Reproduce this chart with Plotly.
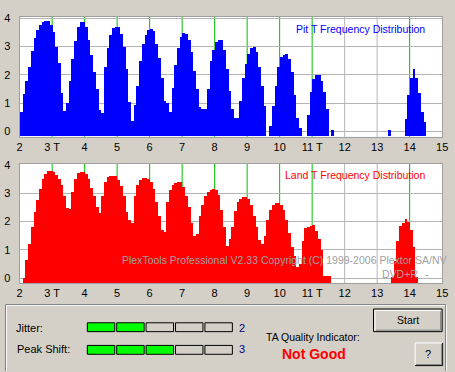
import plotly.graph_objects as go

W, H = 455, 372
BG = "#D4D0C8"
FONT = "Liberation Sans, Arial, sans-serif"

# ---------------- data ----------------
bin_start = 2.0
bin_width = 1 / 12
bar_floor = -0.15

pit_values = [
    0.70, 1.32, 1.80, 2.30, 2.85, 3.30, 3.58, 3.75, 3.86, 3.89, 3.89, 3.75,   # 2T
    3.52, 3.00, 2.43, 1.37, 0.72, 1.00, 1.80, 2.55, 3.20, 3.70, 3.87, 3.87,   # 3T
    3.70, 3.25, 2.70, 2.10, 1.50, 0.76, 0.68, 2.30, 2.95, 3.40, 3.66, 3.70,   # 4T
    3.68, 3.45, 3.00, 2.20, 1.05, 0.38, 0.94, 1.60, 2.50, 3.10, 3.42, 3.58,   # 5T
    3.62, 3.55, 3.10, 2.60, 1.90, 1.10, 1.00, 0.70, 1.55, 2.35, 2.96, 3.35,   # 6T
    3.49, 3.45, 3.22, 2.80, 2.15, 1.50, 0.88, 0.82, 0.80, 1.50, 2.50, 2.90,   # 7T
    3.15, 3.25, 3.25, 2.90, 2.20, 1.45, 0.80, 0.47, 0.47, 1.10, 1.90, 2.40,   # 8T
    2.75, 2.95, 2.99, 2.80, 2.30, 1.60, 0.90, None, 0.20, 0.90, 1.60, 2.30,   # 9T
    2.62, 2.72, 2.75, 2.58, 2.10, 1.30, 0.50, 0.15, None, None, 0.60, 1.40,   # 10T
    1.85, 2.00, 2.00, 1.80, 1.40, 0.80, None, 0.05, None, None, None, None,   # 11T
    None, None, None, None, None, None, None, None, None, None, None, None,   # 12T
    None, None, None, None, 0.05, None, None, None, None, None, 0.45, 1.30,   # 13T
    1.90, 2.20, 1.90, 1.35, 0.70, 0.35, None, None, None, None, None, None,   # 14T
]

land_values = [
    None, 0.02, 0.64, 1.20, 1.80, 2.32, 2.75, 3.15, 3.50, 3.67, 3.78, 3.79,   # 2T
    3.75, 3.65, 3.50, 3.30, 2.90, 2.47, 2.45, 3.05, 3.50, 3.70, 3.76, 3.76,   # 3T
    3.68, 3.50, 3.20, 2.90, 2.50, 2.30, 2.90, 3.39, 3.56, 3.62, 3.62, 3.60,   # 4T
    3.45, 3.25, 2.90, 2.35, 2.05, 1.95, 2.90, 3.30, 3.48, 3.52, 3.52, 3.50,   # 5T
    3.38, 3.15, 2.70, 2.20, 1.70, 1.65, 2.70, 3.10, 3.30, 3.37, 3.39, 3.38,   # 6T
    3.22, 2.90, 2.50, 1.95, 1.50, 1.55, 2.20, 2.60, 2.90, 3.05, 3.12, 3.13,   # 7T
    3.12, 2.94, 2.40, 1.80, 1.15, 1.40, 1.80, 2.36, 2.68, 2.80, 2.86, 2.86,   # 8T
    2.80, 2.60, 2.20, 1.80, 1.35, 1.20, 1.50, 2.05, 2.40, 2.60, 2.65, 2.66,   # 9T
    2.58, 2.40, 2.05, 1.60, 1.10, 0.80, 0.40, 0.50, 1.30, 1.77, 1.80, 1.85,   # 10T
    1.89, 1.68, 1.40, 1.00, 0.08, 0.08, 0.08, None, None, None, None, None,   # 11T
    None, None, None, None, None, None, None, None, None, None, None, None,   # 12T
    None, None, None, None, None, 0.05, 0.60, 1.30, 1.85, 1.95, 2.09, 1.97,   # 13T
    1.70, 1.10, 0.05, None, None, None, None, None, None, None, None, None,   # 14T
]

x_tick_vals = list(range(2, 16))
x_tick_text = ["2", "3 T", "4", "5", "6", "7", "8", "9", "10", "11 T", "12", "13", "14", "15"]
y_tick_vals = [0, 1, 2, 3, 4]
green_marks = [3, 4, 5, 6, 7, 8, 9, 10, 11, 14]
gray_marks = [12, 13]

jitter_level = 2
peak_shift_level = 3
indicator_segments = 5
quality_text = "Not Good"


# ---------------- helpers ----------------
def fx(p):
    return p / W


def fy(p):
    return 1 - p / H


def lengths(vals):
    return [None if v is None else v - bar_floor for v in vals]


bin_centers = [bin_start + (i + 0.5) * bin_width for i in range(len(pit_values))]

fig = go.Figure()
fig.add_trace(go.Bar(
    x=bin_centers, y=lengths(pit_values), base=bar_floor, width=bin_width,
    marker=dict(color="#0000FF", line=dict(width=0)), xaxis="x", yaxis="y",
    showlegend=False, hoverinfo="skip"))
fig.add_trace(go.Bar(
    x=bin_centers, y=lengths(land_values), base=bar_floor, width=bin_width,
    marker=dict(color="#FF0000", line=dict(width=0)), xaxis="x2", yaxis="y2",
    showlegend=False, hoverinfo="skip"))

tickfont = dict(family=FONT, size=11, color="black")
common_x = dict(range=[2, 15], tickmode="array", tickvals=x_tick_vals, ticktext=x_tick_text,
                showgrid=False, zeroline=False, showline=True, mirror=True,
                linecolor="#A0A0A0", linewidth=1, ticks="", tickfont=tickfont,
                ticklabelstandoff=0, fixedrange=True, domain=[fx(17), fx(448)])
common_y = dict(tickmode="array", tickvals=y_tick_vals, showgrid=True, gridcolor="#B4B4B4",
                gridwidth=1, zeroline=False, showline=True, mirror=True,
                linecolor="#A0A0A0", linewidth=1, ticks="", tickfont=tickfont,
                ticklabelstandoff=6, fixedrange=True)

fig.update_layout(
    width=W, height=H,
    margin=dict(l=0, r=0, t=0, b=0),
    paper_bgcolor=BG, plot_bgcolor="white",
    barmode="overlay", bargap=0,
    font=dict(family=FONT, size=11, color="black"),
    xaxis=dict(common_x, anchor="y"),
    yaxis=dict(common_y, anchor="x", domain=[fy(134), fy(12)], range=[-0.184, 4.045]),
    xaxis2=dict(common_x, anchor="y2"),
    yaxis2=dict(common_y, anchor="x2", domain=[fy(282.5), fy(161.5)], range=[-0.166, 4.028]),
)

shapes = []
for xa, ya in (("x", "y domain"), ("x2", "y2 domain")):
    for v in green_marks:
        shapes.append(dict(type="line", xref=xa, yref=ya, x0=v, x1=v, y0=0, y1=1,
                           line=dict(color="#00C000", width=1), layer="below"))
    for v in gray_marks:
        shapes.append(dict(type="line", xref=xa, yref=ya, x0=v, x1=v, y0=0, y1=1,
                           line=dict(color="#B4B4B4", width=1), layer="below"))


def path(points):
    return "M " + " L ".join(f"{fx(a)},{fy(b)}" for a, b in points)


def pline(points, color):
    shapes.append(dict(type="path", xref="paper", yref="paper", path=path(points),
                       line=dict(color=color, width=1)))


def prect(x0, y0, x1, y1, fill, color, width=1):
    shapes.append(dict(type="rect", xref="paper", yref="paper",
                       x0=fx(x0), x1=fx(x1), y0=fy(y1), y1=fy(y0),
                       fillcolor=fill, line=dict(color=color, width=width)))


# group frame (etched)
pline([(3.5, 372), (3.5, 305.5), (452.5, 305.5), (452.5, 372)], "white")
pline([(2.5, 372), (2.5, 304.5), (451.5, 304.5), (451.5, 372)], "#808080")

# indicator segments
for row_y, level in ((323, jitter_level), (346, peak_shift_level)):
    for i in range(indicator_segments):
        x0 = 86 + 30 * i
        prect(x0, row_y, x0 + 28, row_y + 9, "#00FF00" if i < level else BG, "black")

# Start button
prect(378, 309, 448, 332, BG, "black")
pline([(379.5, 330.5), (379.5, 310.5), (446.5, 310.5)], "white")
pline([(380.5, 330.5), (446.5, 330.5), (446.5, 311.5)], "#808080")
# ? button
prect(420, 343, 448, 366, BG, "rgba(0,0,0,0)", 0)
pline([(420.5, 365.5), (420.5, 343.5), (447.5, 343.5)], "white")
pline([(420.5, 366.5), (448.5, 366.5), (448.5, 343.5)], "black")
pline([(421.5, 365.5), (447.5, 365.5), (447.5, 344.5)], "#808080")

fig.update_layout(shapes=shapes)


def ann(text, x, y, xanchor="center", size=10.5, color="black", bold=False):
    return dict(text=f"<b>{text}</b>" if bold else text, x=fx(x), y=fy(y),
                xref="paper", yref="paper", xanchor=xanchor, yanchor="middle",
                showarrow=False, font=dict(family=FONT, size=size, color=color),
                borderpad=0)


annotations = [
    ann("Pit T Frequency Distribution", 432, 24, "right", 10.5, "#0000FF"),
    ann("Land T Frequency Distribution", 432, 173, "right", 10.5, "#FF0000"),
    ann("PlexTools Professional V2.33 Copyright (C) 1999-2006 Plextor SA/NV", 120, 259.5, "left", 10.5, "#A0A0A0"),
    ann("DVD+R", 386, 273, "left", 10.5, "#A0A0A0"),
    ann("-", 433, 273, "center", 10.5, "#A0A0A0"),
    ann("Jitter:", 12, 328, "left", 11),
    ann("Peak Shift:", 13, 350, "left", 11),
    ann(str(jitter_level), 244, 328, "center", 11, "#000080"),
    ann(str(peak_shift_level), 244, 350, "center", 11, "#000080"),
    ann("TA Quality Indicator:", 316, 337, "center", 10.5),
    ann(quality_text, 317, 355, "center", 14, "#FF0000", bold=True),
    ann("Start", 413, 320.5, "center", 10.5),
    ann("?", 434, 354.5, "center", 11),
]
fig.update_layout(annotations=annotations)

fig.write_html(
    "out.html",
    config={"displayModeBar": False},
    post_script="document.body.style.margin='0';document.body.style.padding='0';"
                "document.body.style.overflow='hidden';",
)
